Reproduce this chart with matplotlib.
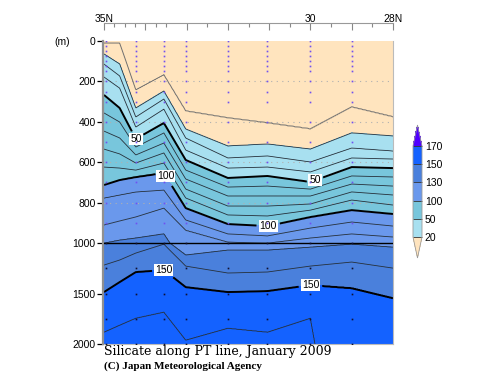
import numpy as np
import matplotlib
matplotlib.use("Agg")
import matplotlib.pyplot as plt
from matplotlib.colors import ListedColormap, BoundaryNorm
import matplotlib.cm as cm

# latitude of each data column (deg N)
lats = [35.0, 34.62, 34.23, 33.55, 33.02, 32.0, 31.04, 30.0, 29.0, 28.0]
# station positions (dotted sampling lines)
station_lats = [34.96, 34.23, 33.55, 33.02, 32.0, 31.04, 30.0, 29.0]
sample_depths = [0, 25, 50, 75, 100, 125, 150, 200, 250, 300, 400, 500, 600,
                 700, 800, 900, 1000, 1250, 1500, 1750, 2000]

# silicate isolines (umol/kg) and their depth (m) at each column, read off the section
# (4000 = the isoline lies below the 2000 m bottom of the section)
iso_levels = [10, 20, 30, 40, 50, 60, 70, 80, 90, 100, 110, 120, 130, 140, 150, 160]
iso_depths = [
    [10, 10, 243, 168, 347, 381, 406, 436, 327, 376],
    [64, 114, 332, 248, 436, 520, 510, 535, 455, 470],
    [114, 173, 376, 287, 480, 579, 569, 599, 530, 545],
    [178, 233, 426, 337, 540, 629, 624, 648, 579, 584],
    [267, 332, 485, 406, 589, 678, 668, 698, 624, 629],
    [356, 401, 525, 455, 639, 723, 718, 733, 668, 673],
    [446, 480, 564, 505, 683, 767, 767, 767, 708, 718],
    [535, 559, 604, 554, 733, 817, 817, 807, 747, 762],
    [624, 629, 639, 604, 777, 861, 866, 837, 787, 812],
    [713, 688, 673, 653, 827, 906, 916, 871, 837, 856],
    [777, 762, 747, 738, 886, 955, 965, 926, 896, 916],
    [911, 891, 871, 827, 936, 995, 1000, 975, 955, 970],
    [1000, 985, 975, 955, 1119, 1069, 1069, 1040, 1010, 1040],
    [1218, 1168, 1099, 1010, 1228, 1297, 1287, 1228, 1188, 1248],
    [1485, 1386, 1287, 1267, 1436, 1485, 1475, 1416, 1446, 1545],
    [1881, 1812, 1743, 1683, 1960, 1842, 1881, 1743, 4000, 4000],
]
surface_value = 5
deep_anchor = (6000, 170)

fill_levels = [-1, 20, 50, 100, 130, 150, 170, 300]
fill_colors = ['#FFE4BE', '#A8E0F0', '#78C6DC', '#6A98EC', '#4A80DC', '#1462FF', '#5000FF']
cbar_ticks = [20, 50, 100, 130, 150, 170]

# build the section field: isolines run straight between columns
lat_asc = np.array(lats)[::-1]
xf = np.linspace(28, 35, 561)
dgrid = np.arange(0, 2001, 5)
iso_f = np.array([np.interp(xf, lat_asc, np.array(row, dtype=float)[::-1]) for row in iso_depths])
field = np.zeros((len(dgrid), len(xf)))
for j in range(len(xf)):
    d_pts = np.concatenate([[0], iso_f[:, j], [deep_anchor[0]]])
    v_pts = np.concatenate([[surface_value], iso_levels, [deep_anchor[1]]])
    field[:, j] = np.interp(dgrid, d_pts, v_pts)


def fwd(d):
    d = np.asarray(d, dtype=float)
    return np.where(d <= 1000, d, 1000 + (d - 1000) / 2)


def inv(y):
    y = np.asarray(y, dtype=float)
    return np.where(y <= 1000, y, 1000 + (y - 1000) * 2)


fig = plt.figure(figsize=(5, 3.87), dpi=100)
ax = fig.add_axes([0.208, 0.111, 0.578, 0.783])
ax.set_yscale('function', functions=(fwd, inv))

ax.contourf(xf, dgrid, field, levels=fill_levels, colors=fill_colors)
for yy in [200, 400, 600, 800]:
    ax.axhline(yy, color='#b0b0b0', lw=0.8, ls=(0, (1, 4)), zorder=2)
ax.contour(xf, dgrid, field, levels=[10], colors='#707070', linewidths=0.7)
thin = [l for l in iso_levels[1:] if l not in (50, 100, 150)]
ax.contour(xf, dgrid, field, levels=thin, colors='#26303a', linewidths=0.6)
cs = ax.contour(xf, dgrid, field, levels=[50, 100, 150], colors='k', linewidths=1.4)
ax.axhline(1000, color='k', lw=1.0, zorder=3)

label_pos = [(34.23, 485), (29.86, 703), (33.55, 673), (31.01, 926), (33.55, 1267), (30.0, 1416)]
labels = ax.clabel(cs, fmt='%d', fontsize=7.5, inline=True, inline_spacing=2, manual=label_pos)
for t in labels:
    t.set_rotation(0)
    t.set_family('Liberation Sans')
    t.set_bbox(dict(facecolor='white', edgecolor='none', pad=0.6))

# sampling points
for s in station_lats:
    for d in sample_depths:
        c = '#7050f0' if d < 1000 else '#101030'
        ax.plot(s, d, marker='s', ms=1.2, mew=0, color=c, zorder=4)

ax.set_xlim(35, 28)
ax.set_ylim(2000, 0)

ax.xaxis.tick_top()
ax.set_xticks([35, 34, 33, 32, 31, 30, 29, 28])
ax.set_xticklabels(['35N', '', '', '', '', '30', '', '28N'])
ax.set_xticks([34.75, 34.5, 34.25, 33.75, 33.5, 32.5, 31.5, 30.5, 29.5, 28.5], minor=True)
ax.tick_params(axis='x', which='major', direction='in', length=5, width=0.8,
               color='#888888', labelsize=7.5, pad=-1)
ax.tick_params(axis='x', which='minor', direction='in', length=3, width=0.8, color='#888888')
ax.spines['top'].set_position(('outward', 13))
ax.spines['top'].set_color('#999999')

ax.set_yticks([0, 200, 400, 600, 800, 1000, 1500, 2000])
ax.set_yticklabels(['0', '200', '400', '600', '800', '1000', '1500', '2000'])
ax.yaxis.set_minor_locator(matplotlib.ticker.NullLocator())
ax.tick_params(axis='y', direction='out', length=4, width=0.9, labelsize=7.5, pad=1)
ax.spines['left'].set_position(('outward', 1))
ax.spines['left'].set_color('#909090')
ax.spines['left'].set_linewidth(1.6)
for sp in ['right', 'bottom']:
    ax.spines[sp].set_color('#bbbbbb')
    ax.spines[sp].set_linewidth(0.8)
for lab in ax.get_xticklabels() + ax.get_yticklabels():
    lab.set_family('Liberation Sans')

fig.text(62 / 500, 1 - 42 / 387, '(m)', fontsize=7.5, family='Liberation Sans', va='center', ha='center')
fig.text(104 / 500, 1 - 352 / 387, 'Silicate along PT line, January 2009',
         fontsize=9, family='DejaVu Serif', va='center', ha='left')
fig.text(104 / 500, 1 - 366 / 387, '(C) Japan Meteorological Agency',
         fontsize=8, family='Liberation Serif', weight='bold', va='center', ha='left')

# colorbar
cmap = ListedColormap(fill_colors[1:6])
cmap.set_under(fill_colors[0])
cmap.set_over(fill_colors[6])
norm = BoundaryNorm(cbar_ticks, cmap.N)
cax = fig.add_axes([413 / 500, 1 - 258 / 387, 9 / 500, 133 / 387])
cb = fig.colorbar(cm.ScalarMappable(norm=norm, cmap=cmap), cax=cax, extend='both',
                  extendfrac=0.23, ticks=cbar_ticks, spacing='uniform', drawedges=True)
cb.outline.set_edgecolor('#999999')
cb.outline.set_linewidth(0.6)
cb.dividers.set_color('#333333')
cb.dividers.set_linewidth(0.6)
cb.ax.tick_params(length=0, labelsize=7.5, pad=2)
for lab in cb.ax.get_yticklabels():
    lab.set_family('Liberation Sans')

fig.savefig('out.png', dpi=100)
